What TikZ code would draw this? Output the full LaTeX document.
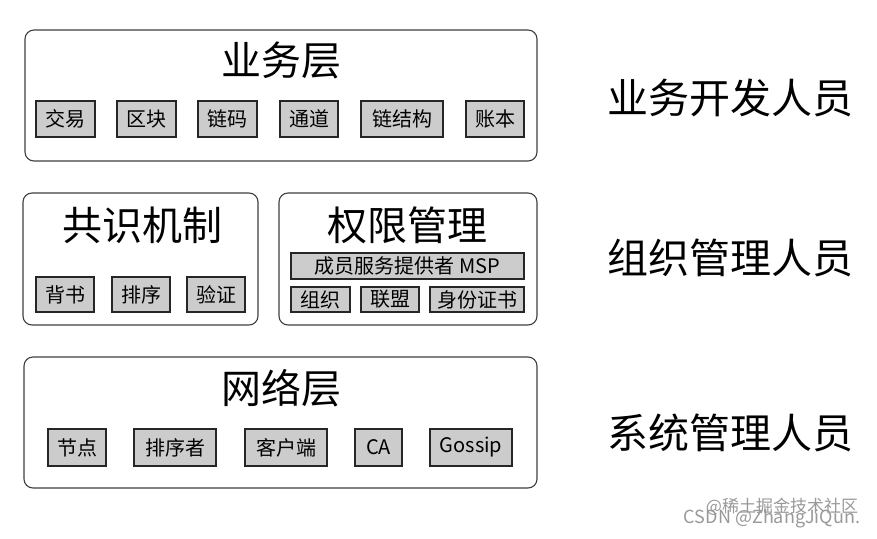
\documentclass[tikz,border=0pt]{standalone}
\usepackage{fontspec}
\setmainfont{Noto Sans CJK SC}
\begin{document}
\begin{tikzpicture}[x=1pt,y=-1pt,
  outer/.style={draw=black!75,line width=1.1pt,rounded corners=9pt,inner sep=0pt,fill=white},
  smallbox/.style={draw=black!85,line width=1.2pt,fill=black!20,inner sep=0pt,font=\fontsize{20pt}{22pt}\selectfont},
  ttl/.style={font=\fontsize{40pt}{44pt}\selectfont,inner sep=0pt},
  role/.style={font=\fontsize{41pt}{44pt}\selectfont,inner sep=0pt},
  wm/.style={text=black!40,inner sep=0pt}]
\useasboundingbox (0,0) rectangle (877,538);
\fill[white] (0,0) rectangle (877,538);
% outer boxes
\node[outer,minimum width=512pt,minimum height=131pt] (biz) at (281,95.5) {};
\node[outer,minimum width=235pt,minimum height=132pt] (cons) at (140.5,259) {};
\node[outer,minimum width=258pt,minimum height=132pt] (perm) at (408,259) {};
\node[outer,minimum width=513pt,minimum height=131pt] (net) at (280.5,422.5) {};
% titles
\node[ttl] (t1) at (281,60) {业务层};
\node[ttl] (t2) at (142,225) {共识机制};
\node[ttl] (t3) at (407,225) {权限管理};
\node[ttl] (t4) at (281,388) {网络层};
% business layer items
\node[smallbox,minimum width=59pt,minimum height=36pt] (b1) at (65.5,119) {交易};
\node[smallbox,minimum width=59pt,minimum height=36pt] (b2) at (146.5,119) {区块};
\node[smallbox,minimum width=59pt,minimum height=36pt] (b3) at (227.5,119) {链码};
\node[smallbox,minimum width=58pt,minimum height=36pt] (b4) at (309,119) {通道};
\node[smallbox,minimum width=82pt,minimum height=36pt] (b5) at (402,119) {链结构};
\node[smallbox,minimum width=58pt,minimum height=36pt] (b6) at (495,119) {账本};
% consensus items
\node[smallbox,minimum width=58pt,minimum height=35pt] (c1) at (65,294.5) {背书};
\node[smallbox,minimum width=58pt,minimum height=35pt] (c2) at (141,294.5) {排序};
\node[smallbox,minimum width=58pt,minimum height=35pt] (c3) at (216,294.5) {验证};
% permission items
\node[smallbox,minimum width=233pt,minimum height=26pt] (p0) at (407.5,266) {成员服务提供者 MSP};
\node[smallbox,minimum width=59pt,minimum height=25pt] (p1) at (320.5,299.5) {组织};
\node[smallbox,minimum width=58pt,minimum height=25pt] (p2) at (390,299.5) {联盟};
\node[smallbox,minimum width=94pt,minimum height=25pt] (p3) at (477,299.5) {身份证书};
% network items
\node[smallbox,minimum width=58pt,minimum height=37pt] (n1) at (77,447.5) {节点};
\node[smallbox,minimum width=82pt,minimum height=37pt] (n2) at (175,447.5) {排序者};
\node[smallbox,minimum width=82pt,minimum height=37pt] (n3) at (286,447.5) {客户端};
\node[smallbox,minimum width=47pt,minimum height=37pt] (n4) at (378.5,447.5) {CA};
\node[smallbox,minimum width=82pt,minimum height=37pt] (n5) at (471,447.5) {Gossip};
% roles
\node[role] (r1) at (730,98) {业务开发人员};
\node[role] (r2) at (730,258) {组织管理人员};
\node[role] (r3) at (730,433) {系统管理人员};
% watermarks
\node[wm,font=\fontsize{17pt}{20pt}\selectfont] (w1) at (782,507) {@稀土掘金技术社区};
\node[wm,font=\fontsize{18pt}{20pt}\selectfont] (w2) at (772,519) {CSDN @ZhangJiQun.};
\end{tikzpicture}
\end{document}
